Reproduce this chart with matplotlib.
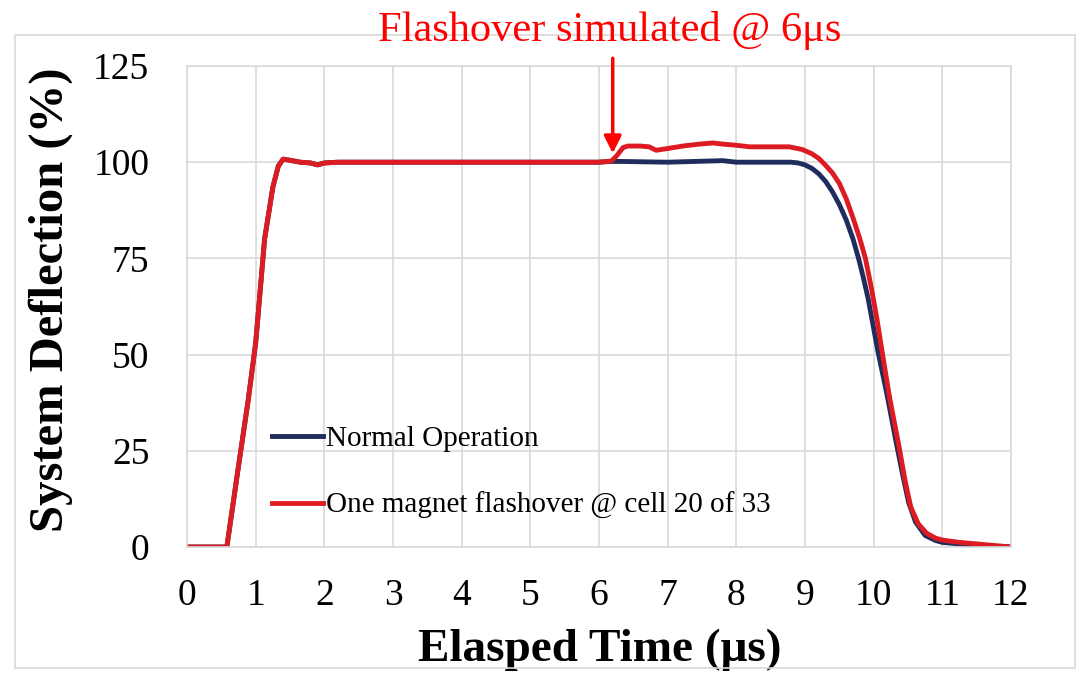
import matplotlib
matplotlib.use('Agg')
import matplotlib.pyplot as plt
from matplotlib.patches import Rectangle

# values
t_normal = [0, 0.58, 0.75, 0.89, 1.0, 1.13, 1.25, 1.33, 1.4, 1.5, 1.65, 1.8, 1.9, 2.0, 2.2,
            3, 4, 5, 6, 6.18, 6.3, 7.0, 7.8, 8.0, 8.8, 8.9, 9.0, 9.1, 9.2, 9.3, 9.4, 9.5,
            9.6, 9.7, 9.78, 9.85, 9.92, 10.06, 10.19, 10.33, 10.42, 10.51, 10.61, 10.75, 10.9,
            11.0, 11.5, 12.0]
y_normal = [0, 0, 21, 38, 53, 80, 93.5, 99, 100.8, 100.5, 100, 99.8, 99.3, 99.8, 100,
            100, 100, 100, 100, 100.2, 100.2, 100, 100.4, 100, 100, 99.8, 99.3, 98.4, 97, 95, 92.3, 89,
            85, 80, 75, 70, 64.5, 51, 40, 27, 19, 11.5, 6.5, 3, 1.7,
            1.2, 0.4, 0]

t_flash = [0, 0.58, 0.75, 0.89, 1.0, 1.13, 1.25, 1.33, 1.4, 1.5, 1.65, 1.8, 1.9, 2.0, 2.2,
           3, 4, 5, 6, 6.18, 6.25, 6.35, 6.42, 6.6, 6.73, 6.83, 6.98, 7.22, 7.46, 7.66, 7.8,
           8.0, 8.19, 8.5, 8.77, 8.96, 9.1, 9.2, 9.3, 9.4, 9.5, 9.6, 9.7, 9.8, 9.88, 9.97,
           10.05, 10.13, 10.23, 10.37, 10.46, 10.54, 10.65, 10.77, 10.9, 11.0, 11.25, 11.5,
           11.75, 12.0]
y_flash = [0, 0, 21, 38, 53, 80, 93.5, 99, 100.8, 100.5, 100, 99.8, 99.3, 99.8, 100,
           100, 100, 100, 100, 100.3, 101.5, 103.8, 104.2, 104.2, 104.0, 103.1, 103.5, 104.2, 104.7, 105.0, 104.7,
           104.4, 104.0, 104.0, 104.0, 103.3, 102.2, 101, 99.2, 97.2, 94.5, 90.5, 85.5, 80, 75, 67,
           59, 50, 39, 26, 17, 10.4, 6, 3.6, 2.3, 1.8, 1.2, 0.8,
           0.4, 0]

xticks = list(range(0, 13))
yticks = [0, 25, 50, 75, 100, 125]

plt.rcParams['font.family'] = ['Liberation Serif', 'DejaVu Serif']
grey = '#d9d9d9'

fig = plt.figure(figsize=(10.77, 6.73), dpi=100)
ax = fig.add_axes([187 / 1077, 126 / 673, 824 / 1077, 481 / 673])

# outer chart border
fig.patches.append(Rectangle((15 / 1077, 5 / 673), 1060 / 1077, 633 / 673,
                             transform=fig.transFigure, fill=False,
                             edgecolor=grey, linewidth=1.2))

ax.plot(t_normal, y_normal, color='#1f2d5c', lw=3.5, label='Normal Operation')
ax.plot(t_flash, y_flash, color='#dc1c22', lw=3.5,
        label='One magnet flashover @ cell 20 of 33')

ax.set_xlim(0, 12)
ax.set_ylim(0, 125)
ax.set_xticks(xticks)
ax.set_yticks(yticks)
ax.grid(True, color=grey, lw=1.2)
ax.set_axisbelow(True)
for s in ax.spines.values():
    s.set_color(grey)
    s.set_linewidth(1.2)
ax.tick_params(length=0, labelsize=27)
ax.tick_params(axis='y', pad=27)
ax.tick_params(axis='x', pad=23)

ax.set_xlabel('Elasped Time (μs)', fontsize=34, fontweight='bold')
ax.set_ylabel('System Deflection (%)', fontsize=35, fontweight='bold')
ax.xaxis.set_label_coords(0.501, -0.17)
ax.yaxis.set_label_coords(-0.138, 0.515)

ax.legend(loc='lower left', bbox_to_anchor=(0.085, 0.028), frameon=False,
          fontsize=21, handlelength=1.75, handletextpad=0.1, labelspacing=1.35,
          borderpad=0)

# flashover annotation
ax.annotate('', xy=(6.2, 102.3), xytext=(6.2, 127), annotation_clip=False,
            arrowprops=dict(arrowstyle='-|>', color='red', lw=2.5,
                            mutation_scale=26, shrinkA=0, shrinkB=0))
fig.text(610 / 1077, 1 - 30 / 673, 'Flashover simulated @ 6μs', color='red',
         fontsize=30.5, ha='center', va='center')

fig.savefig('out.png', dpi=100)
